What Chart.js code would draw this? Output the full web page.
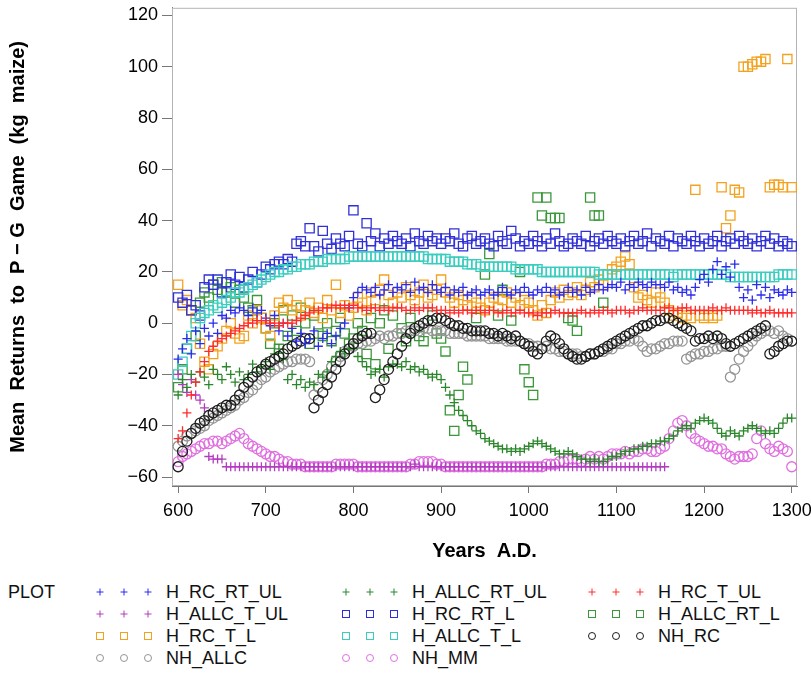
<!DOCTYPE html>
<html>
<head>
<meta charset="utf-8">
<script src="https://cdn.jsdelivr.net/npm/chart.js@4.4.1/dist/chart.umd.min.js"></script>
<style>
body { margin: 0; background: #fff; font-family: "Liberation Sans", Arial, sans-serif; }
#wrap { position: relative; width: 811px; height: 674px; overflow: hidden; }
#chart { position: absolute; left: 0; top: 0; }
.lg { position: absolute; font-size: 18px; color: #111; line-height: 22px; white-space: nowrap; }
svg.mk { position: absolute; overflow: visible; }
</style>
</head>
<body>
<div id="wrap">
<canvas id="chart" width="811" height="570"></canvas>
<div id="legend"></div>
</div>
<script>
// years (5-year steps)
var years = [
    600, 605, 610, 615, 620, 625, 630, 635, 640, 645,
    650, 655, 660, 665, 670, 675, 680, 685, 690, 695,
    700, 705, 710, 715, 720, 725, 730, 735, 740, 745,
    750, 755, 760, 765, 770, 775, 780, 785, 790, 795,
    800, 805, 810, 815, 820, 825, 830, 835, 840, 845,
    850, 855, 860, 865, 870, 875, 880, 885, 890, 895,
    900, 905, 910, 915, 920, 925, 930, 935, 940, 945,
    950, 955, 960, 965, 970, 975, 980, 985, 990, 995,
    1000, 1005, 1010, 1015, 1020, 1025, 1030, 1035, 1040, 1045,
    1050, 1055, 1060, 1065, 1070, 1075, 1080, 1085, 1090, 1095,
    1100, 1105, 1110, 1115, 1120, 1125, 1130, 1135, 1140, 1145,
    1150, 1155, 1160, 1165, 1170, 1175, 1180, 1185, 1190, 1195,
    1200, 1205, 1210, 1215, 1220, 1225, 1230, 1235, 1240, 1245,
    1250, 1255, 1260, 1265, 1270, 1275, 1280, 1285, 1290, 1295,
    1300
];

var yTicks = [-60, -40, -20, 0, 20, 40, 60, 80, 100, 120];
var xTicks = [600, 700, 800, 900, 1000, 1100, 1200, 1300];

var H_RC_T_UL = [
    -45, -42, -35, -28, -23, -19, -15, -11, -9, -7,
    -6, -5, -4, -3, -2, -1, 0, 0, 1, 1,
    1, 0, 0, -1, 0, 0, 0, 1, 2, 3,
    4, 5, 5, 6, 6, 6, 7, 6, 7, 6,
    7, 6, 6, 5, 6, 6, 5, 6, 5, 6,
    6, 6, 5, 5, 6, 5, 6, 6, 6, 5,
    5, 5, 4, 5, 4, 5, 5, 4, 5, 5,
    4, 5, 5, 4, 4, 5, 4, 4, 5, 4,
    4, 4, 3, 4, 4, 4, 5, 4, 4, 4,
    4, 4, 5, 4, 4, 5, 4, 5, 5, 4,
    5, 5, 5, 4, 5, 5, 6, 5, 5, 5,
    5, 6, 6, 5, 5, 6, 6, 5, 5, 5,
    5, 5, 6, 5, 5, 6, 5, 5, 5, 5,
    5, 4, 5, 4, 4, 5, 4, 4, 4, 4,
    4
];

var H_RC_RT_UL = [
    -14, -10, -6, -12, -3, -8, -2, -5, 0, -4,
    3, 2, 5, 4, 6, 5, 3, 6, 4, 5,
    2, -1, 3, -3, 0, -5, -2, -7, -4, -8,
    -6, -3, -9, -6, -4, -8, -5, -2, 0, 6,
    10, 12, 14, 13, 12, 14, 11, 13, 15, 12,
    14, 13, 15, 12, 16, 13, 14, 12, 15, 13,
    12, 14, 11, 13, 12, 14, 11, 12, 13, 11,
    12, 13, 11, 12, 14, 12, 11, 13, 12, 14,
    12, 11, 13, 12, 14, 12, 13, 11, 12, 14,
    12, 13, 11, 14, 12, 13, 15, 13, 14, 15,
    14, 16, 13, 15, 14, 16, 15, 14, 16, 15,
    15, 14, 16, 13, 14, 12, 13, 11, 14, 17,
    19, 16, 21, 24, 19, 22, 18, 23, 14, 10,
    13, 9, 15, 11, 14, 10, 13, 12, 11, 13,
    12
];

var H_RC_RT_L = [
    10, 8, 11, 5, 7, 3, 14, 17, 15, 17,
    12, 16, 19, 15, 18, 14, 17, 20, 16, 19,
    22, 21, 23, 24, 23, 25, 24, 31, 32, 30,
    37, 30, 28, 36, 31, 29, 33, 31, 30, 34,
    44, 31, 30, 39, 32, 35, 30, 33, 31, 34,
    32, 31, 33, 30, 35, 32, 31, 34, 32, 33,
    31, 33, 32, 35, 31, 30, 33, 34, 31, 32,
    33, 31, 30, 34, 32, 31, 36, 33, 30, 32,
    31, 34, 32, 30, 33, 31, 35, 32, 30, 31,
    33, 32, 31, 34, 30, 32, 33, 31, 34, 32,
    31, 33, 30, 32, 34, 31, 32, 35, 30, 33,
    32, 31, 34, 30, 33, 32, 31, 34, 32, 30,
    33, 31, 32, 34, 30, 32, 33, 31, 34, 32,
    31, 33, 30, 32, 34, 31, 33, 30, 32, 31,
    30
];

var H_ALLC_T_L = [
    -20, -15, -10, -5, 0, 2, 4, 5, 7, 6,
    8, 9, 10, 12, 12, 13, 14, 15, 16, 17,
    18, 19, 20, 20, 21, 21, 22, 22, 23, 23,
    23, 24, 24, 24, 25, 25, 25, 25, 25, 26,
    26, 26, 26, 26, 26, 26, 26, 26, 26, 26,
    26, 26, 26, 26, 26, 26, 26, 25, 25, 25,
    25, 25, 24, 24, 24, 24, 23, 23, 23, 22,
    22, 22, 22, 22, 22, 22, 22, 21, 21, 21,
    21, 21, 21, 20, 20, 20, 20, 20, 20, 20,
    20, 20, 20, 20, 20, 20, 19, 19, 19, 19,
    19, 19, 19, 19, 19, 19, 19, 19, 19, 19,
    19, 19, 19, 18, 19, 19, 19, 19, 19, 19,
    19, 19, 19, 19, 19, 19, 18, 18, 18, 18,
    18, 18, 18, 18, 18, 18, 18, 19, 19, 19,
    19
];

var H_ALLC_RT_UL = [
    -28, -22, -25, -20, -23, -19, -21, -24, -18, -20,
    -22, -17, -20, -23, -19, -22, -20, -16, -19, -17,
    -15, -18, -12, -10, -14, -22, -20, -24, -22, -25,
    -23, -24, -20, -21, -19, -15, -13, -11, -12, -10,
    -10, -13, -15, -17, -20, -19, -18, -21, -17, -16,
    -16, -17, -15, -18, -17, -19, -18, -20, -21, -20,
    -22, -25, -28, -31, -34, -36, -38, -40, -42, -43,
    -45, -46, -47, -48, -49, -49, -50, -49, -50, -49,
    -48, -47, -46, -47, -48, -49, -50, -51, -51, -50,
    -51, -52, -53, -53, -54, -53, -54, -54, -53, -52,
    -52, -51, -50, -50, -49, -49, -48, -48, -47, -47,
    -46, -46, -45, -44, -42, -41, -40, -41, -39, -38,
    -37, -38, -39, -41, -43, -44, -42, -43, -44, -42,
    -41, -40, -41, -42, -43, -42, -43, -41, -39, -37,
    -37
];

var H_ALLC_RT_L = [
    -25, -18, -10, 5, -5, 8, 12, 10, 15, 13,
    16, 12, 14, 8, 13, 10, 6, 5, 9, 2,
    -2, -8, 0, -10, 5, -5, 3, -3, 6, 0,
    -8, 3, -4, -5, 0, -7, -3, 2, -4, -8,
    -6, 0, -3, -12, 2, -16, 0, 5, -10, 3,
    null, -2, -7, 2, null, -5, -7, null, 3, -4,
    -6, -11, -34, -42, -28, -17, -22, null, 2, null,
    19, 27, null, 3, 13, null, 1, null, 20, -18,
    -23, -28, 49, 42, 49, 41, 41, 41, null, 2,
    1, -3, null, null, 49, 42, 42, 8, null, null,
    null, null, null, null, null, null, null, null, null, null,
    null, null, null, null, null, null, null, null, null, null,
    null, null, null, null, null, null, null, null, null, null,
    null, null, null, null, null, null, null, null, null, null,
    null
];

var H_RC_T_L = [
    15, 7, 9, 5, 2, -8, -15, -18, -12, -9,
    -6, -3, 0, -4, -6, -5, 3, 0, 5, 2,
    -2, -5, 3, 8, 6, 9, 5, 7, 3, 5,
    8, 4, 6, 2, 9, 5, 15, 4, 7, 3,
    6, 10, 8, 5, 12, 9, 13, 17, 11, 8,
    12, 10, 14, 11, 9, 12, 15, 10, 11, 13,
    17, 12, 10, 8, 11, 9, 7, 10, 8, 6,
    5, 8, 10, 6, 9, 12, 8, 10, 7, 9,
    8, 5, 3, 7, 4, 9, 12, 10, 13, 11,
    12, 14, 11, 13, 16, 14, 17, 15, 19, 21,
    22, 24, 26, 23, 14, 10, 11, 9, 8, 12,
    10, 8, 5, 3, 4, 2, 3, 2, 52, 3,
    2, 3, 2, 3, 53, 37, 42, 52, 51, 100,
    100, 101, 102, 102, 103, 53, 54, 54, 53, 103,
    53
];

var H_ALLC_T_UL = [
    -20, -24, -27, -22, -28, -30, -33, -52, -53, -53,
    -53, -56, -56, -56, -56, -56, -56, -56, -56, -56,
    -56, -56, -56, -56, -56, -56, -56, -56, -56, -56,
    -56, -56, -56, -56, -56, -56, -56, -56, -56, -56,
    -56, -56, -56, -56, -56, -56, -56, -56, -56, -56,
    -56, -56, -56, -56, -55, -56, -56, -56, -56, -56,
    -56, -56, -56, -56, -56, -56, -56, -56, -56, -56,
    -56, -56, -56, -56, -56, -56, -56, -56, -56, -56,
    -56, -56, -56, -56, -56, -56, -56, -56, -56, -56,
    -56, -56, -56, -56, -56, -56, -56, -56, -56, -56,
    -56, -56, -56, -56, -56, -56, -56, -56, -56, -56,
    -56, -56, null, null, null, null, null, null, null, null,
    null, null, null, null, null, null, null, null, null, null,
    null, null, null, null, null, null, null, null, null, null,
    null
];

var NH_MM = [
    -54, -52, -51, -50, -49, -48, -47, -47, -46, -46,
    -47, -46, -45, -44, -43, -45, -47, -48, -49, -50,
    -51, -52, -52, -53, -54, -54, -55, -55, -55, -56,
    -56, -56, -56, -56, -56, -56, -55, -55, -55, -55,
    -55, -56, -56, -56, -56, -56, -56, -56, -56, -56,
    -56, -56, -56, -55, -55, -54, -54, -54, -54, -55,
    -55, -56, -56, -56, -56, -56, -56, -56, -56, -56,
    -56, -56, -56, -56, -56, -56, -56, -56, -56, -56,
    -56, -56, -56, -56, -55, -55, -55, -54, -54, -53,
    -53, -53, -54, -53, -52, -53, -52, -53, -52, -51,
    -51, -51, -50, -51, -50, -50, -49, -49, -50, -50,
    -49, -48, -45, -42, -39, -38, -40, -43, -45, -46,
    -47, -48, -48, -49, -49, -51, -52, -53, -52, -52,
    -52, -51, -45, -42, -47, -49, -50, -48, -49, -50,
    -56
];

var NH_ALLC = [
    -48, -46, -44, -43, -42, -41, -40, -38, -37, -36,
    -35, -34, -33, -32, -30, -29, -27, -26, -24, -22,
    -21, -19, -18, -17, -16, -15, -15, -14, -14, -14,
    -15, -28, -25, -22, -20, -17, -15, -13, -11, -10,
    -9, -8, -8, -7, -7, -6, -5, -6, -5, -5,
    -4, -4, -3, -3, -3, -3, -2, -2, -3, -3,
    -3, -3, -4, -4, -4, -4, -5, -5, -5, -5,
    -5, -6, -6, -6, -6, -7, -7, -7, -7, -8,
    -8, -9, -9, -10, -9, -10, -10, -11, -11, -12,
    -12, -12, -13, -13, -12, -12, -11, -11, -10, -10,
    -8, -8, -7, -7, -6, -7, -9, -11, -10, -10,
    -9, -8, -8, -7, -7, -7, -14, -13, -12, -12,
    -11, -11, -10, -10, -9, -9, -21, -18, -14, -11,
    -9, -7, -5, -4, -3, -3, -4, -3, -5, -6,
    -7
];

var NH_RC = [
    -56, -50, -46, -43, -41, -39, -38, -36, -35, -34,
    -33, -32, -32, -30, -28, -25, -23, -21, -19, -18,
    -16, -15, -14, -13, -12, -10, -9, -8, -7, -6,
    -6, -33, -30, -27, -24, -21, -18, -15, -12, -10,
    -8, -6, -5, -4, -4, -29, -26, -22, -18, -15,
    -12, -9, -6, -4, -2, -1, 0, 1, 1, 2,
    2, 1, 0, -1, -1, -2, -2, -3, -3, -3,
    -3, -4, -4, -5, -4, -5, -6, -5, -7, -8,
    -9, -11, -12, -10, -7, -5, -6, -8, -10, -12,
    -13, -14, -14, -13, -12, -12, -11, -10, -9, -8,
    -7, -6, -5, -4, -3, -2, -1, -1, 0, 1,
    1, 2, 2, 1, 0, -1, -2, -3, -7, -6,
    -6, -5, -6, -5, -6, -8, -9, -8, -7, -6,
    -5, -4, -3, -2, -1, -12, -11, -9, -8, -7,
    -7
];

// drawing order: first entry ends up on top
var series = [
    { label: 'H_RC_T_UL', values: H_RC_T_UL, color: '#ff2a2a', style: 'cross', radius: 4.5 },
    { label: 'H_RC_RT_UL', values: H_RC_RT_UL, color: '#2b2bee', style: 'cross', radius: 4.5 },
    { label: 'NH_RC', values: NH_RC, color: '#1e1e1e', style: 'circle', radius: 5 },
    { label: 'H_ALLC_RT_UL', values: H_ALLC_RT_UL, color: '#2a862a', style: 'cross', radius: 4.5 },
    { label: 'H_ALLC_T_UL', values: H_ALLC_T_UL, color: '#b23cc0', style: 'cross', radius: 4.5 },
    { label: 'NH_ALLC', values: NH_ALLC, color: '#959595', style: 'circle', radius: 5 },
    { label: 'NH_MM', values: NH_MM, color: '#e070e0', style: 'circle', radius: 5 },
    { label: 'H_ALLC_T_L', values: H_ALLC_T_L, color: '#3acdbf', style: 'rect', radius: 6.5 },
    { label: 'H_RC_RT_L', values: H_RC_RT_L, color: '#3030d8', style: 'rect', radius: 6.5 },
    { label: 'H_RC_T_L', values: H_RC_T_L, color: '#f3a21e', style: 'rect', radius: 6.5 },
    { label: 'H_ALLC_RT_L', values: H_ALLC_RT_L, color: '#3a983a', style: 'rect', radius: 6.5 }
];

var legendOrder = ['H_RC_RT_UL', 'H_ALLC_T_UL', 'H_RC_T_L', 'NH_ALLC',
    'H_ALLC_RT_UL', 'H_RC_RT_L', 'H_ALLC_T_L', 'NH_MM',
    'H_RC_T_UL', 'H_ALLC_RT_L', 'NH_RC'];

Chart.defaults.font.family = '"Liberation Sans", Arial, sans-serif';

var framePlugin = {
    id: 'frame',
    beforeDatasetsDraw: function (chart) {
        var ctx = chart.ctx, a = chart.chartArea;
        ctx.save();
        ctx.strokeStyle = '#b4b4b4';
        ctx.lineWidth = 1;
        ctx.strokeRect(a.left + 0.5, a.top + 0.5, a.right - a.left - 1, a.bottom - a.top - 1);
        ctx.restore();
    }
};

var chart = new Chart(document.getElementById('chart'), {
    type: 'scatter',
    data: {
        datasets: series.map(function (s) {
            return {
                label: s.label,
                data: years.map(function (yr, i) { return { x: yr, y: s.values[i] }; }),
                pointStyle: s.style,
                pointRadius: s.radius,
                pointHoverRadius: s.radius,
                borderColor: s.color,
                backgroundColor: 'rgba(0,0,0,0)',
                borderWidth: 1.3
            };
        })
    },
    options: {
        responsive: false,
        animation: false,
        devicePixelRatio: 1,
        layout: { padding: { top: 6, right: 14, bottom: 0, left: 0 } },
        plugins: {
            legend: { display: false },
            tooltip: { enabled: false }
        },
        scales: {
            x: {
                type: 'linear',
                min: 593,
                max: 1306,
                afterFit: function (s) { s.height = 84; s.paddingLeft = 0; s.paddingRight = 0; },
                afterBuildTicks: function (s) { s.ticks = xTicks.map(function (v) { return { value: v }; }); },
                ticks: {
                    color: '#000',
                    font: { size: 18 },
                    padding: 7,
                    maxRotation: 0,
                    autoSkip: false,
                    callback: function (v) { return String(v); }
                },
                grid: { drawOnChartArea: false, tickLength: 7, color: '#777' },
                border: { color: '#777' },
                title: {
                    display: true,
                    text: 'Years  A.D.',
                    color: '#000',
                    font: { size: 20, weight: 'bold' },
                    padding: { top: 0, bottom: 7 }
                }
            },
            y: {
                min: -63.5,
                max: 123,
                afterFit: function (s) { s.width = 172; s.paddingTop = 0; s.paddingBottom = 0; },
                afterBuildTicks: function (s) { s.ticks = yTicks.map(function (v) { return { value: v }; }); },
                ticks: {
                    color: '#000',
                    font: { size: 18 },
                    padding: 4,
                    callback: function (v) { return v < 0 ? '\u2212' + Math.abs(v) : String(v); }
                },
                grid: { drawOnChartArea: false, tickLength: 10, color: '#777' },
                border: { color: '#777' },
                title: {
                    display: true,
                    text: 'Mean  Returns  to  P \u2212 G  Game  (kg  maize)',
                    color: '#000',
                    font: { size: 20, weight: 'bold' },
                    padding: { top: 6, bottom: 0 }
                }
            }
        }
    },
    plugins: [framePlugin]
});

// legend below the plot
var legend = document.getElementById('legend');
var rowY = [592, 614, 636, 658];
var colOffset = [0, 246, 492];
var markerX = [100, 124, 148];

function marker(style, color, cx, cy) {
    var ns = 'http://www.w3.org/2000/svg';
    var svg = document.createElementNS(ns, 'svg');
    svg.setAttribute('class', 'mk');
    svg.setAttribute('width', '10');
    svg.setAttribute('height', '10');
    svg.style.left = (cx - 5) + 'px';
    svg.style.top = (cy - 5) + 'px';
    var el;
    if (style === 'cross') {
        el = document.createElementNS(ns, 'path');
        el.setAttribute('d', 'M5 1.5 V8.5 M1.5 5 H8.5');
    } else if (style === 'rect') {
        el = document.createElementNS(ns, 'rect');
        el.setAttribute('x', '1.5'); el.setAttribute('y', '1.5');
        el.setAttribute('width', '7'); el.setAttribute('height', '7');
    } else {
        el = document.createElementNS(ns, 'circle');
        el.setAttribute('cx', '5'); el.setAttribute('cy', '5'); el.setAttribute('r', '3.5');
    }
    el.setAttribute('fill', 'none');
    el.setAttribute('stroke', color);
    el.setAttribute('stroke-width', '1');
    svg.appendChild(el);
    return svg;
}

var plotLabel = document.createElement('div');
plotLabel.className = 'lg';
plotLabel.textContent = 'PLOT';
plotLabel.style.left = '8px';
plotLabel.style.top = (rowY[0] - 11) + 'px';
legend.appendChild(plotLabel);

legendOrder.forEach(function (name, i) {
    var s = series.filter(function (d) { return d.label === name; })[0];
    var col = Math.floor(i / 4), row = i % 4;
    var off = colOffset[col], cy = rowY[row];
    markerX.forEach(function (mx) { legend.appendChild(marker(s.style, s.color, mx + off, cy)); });
    var t = document.createElement('div');
    t.className = 'lg';
    t.textContent = name;
    t.style.left = (166 + off) + 'px';
    t.style.top = (cy - 11) + 'px';
    legend.appendChild(t);
});
</script>
</body>
</html>
